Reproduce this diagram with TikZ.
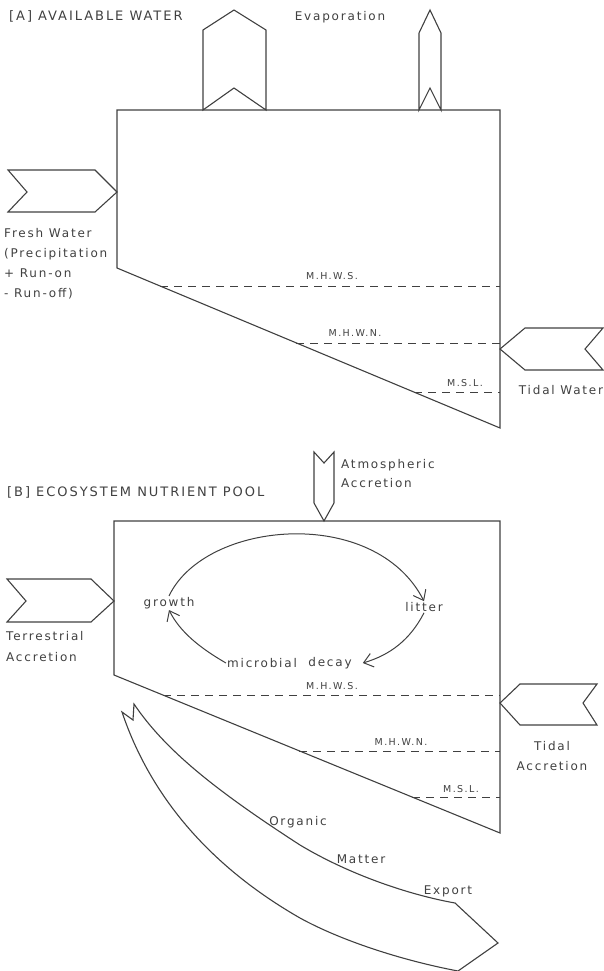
\documentclass[tikz,border=0pt]{standalone}
\usepackage{fontspec}
\setmainfont{DejaVu Sans}[LetterSpace=15]
\usetikzlibrary{arrows.meta}
\definecolor{ink}{gray}{0.25}

\tikzset{
  boxline/.style={draw=ink, line width=1.1pt, line join=miter},
  tideline/.style={draw=ink, line width=1pt, dash pattern=on 8pt off 6pt},
  cycleflow/.style={draw=ink, line width=1pt, -{Straight Barb[length=9pt,width=14pt]}},
  lbl/.style={text=ink, inner sep=1pt, font=\fontsize{12}{20}\selectfont},
  smalltag/.style={text=ink, inner sep=1pt, font=\fontsize{9.5}{10}\selectfont},
}

\begin{document}
\begin{tikzpicture}[x=1pt,y=-1pt]
  \useasboundingbox (0,0) rectangle (604,971);

  % ---- [A] available water ----
  \node[lbl, anchor=west, font=\fontsize{13}{14}\selectfont] (titleA) at (8,16) {[A] AVAILABLE WATER};
  \draw[boxline] (117,110) -- (500,110) -- (500,428) -- (117,268) -- cycle;

  % evaporation outlets
  \draw[boxline] (203,110) -- (203,30) -- (234,10) -- (266,30) -- (266,110) -- (234,88) -- cycle;
  \draw[boxline] (419,110) -- (419,33) -- (430,10) -- (441,33) -- (441,110) -- (430,88) -- cycle;
  \node[lbl] (evap) at (340,17) {Evaporation};

  % fresh water in (left) and tidal water in (right)
  \draw[boxline] (8,170) -- (95,170) -- (117,192) -- (95,212) -- (8,212) -- (27,192) -- cycle;
  \node[lbl, anchor=west, align=left] (fresh) at (3,264) {Fresh Water\\(Precipitation\\+ Run-on\\- Run-off)};
  \draw[boxline] (500,349) -- (525,328) -- (603,328) -- (585,349) -- (603,370) -- (525,370) -- cycle;
  \node[lbl] (tidalA) at (561,390) {Tidal Water};

  % tide levels
  \draw[tideline] (160,286) -- (500,286);
  \draw[tideline] (296,343) -- (500,343);
  \draw[tideline] (414,392) -- (500,392);
  \node[smalltag] (mhwsA) at (332,276) {M.H.W.S.};
  \node[smalltag] (mhwnA) at (355,333) {M.H.W.N.};
  \node[smalltag] (mslA) at (465,383) {M.S.L.};

  % ---- [B] ecosystem nutrient pool ----
  \node[lbl, anchor=west, font=\fontsize{13}{14}\selectfont] (titleB) at (6,492) {[B] ECOSYSTEM NUTRIENT POOL};
  \draw[boxline] (114,521) -- (500,521) -- (500,833) -- (114,675) -- cycle;

  % inputs: atmosphere, land, tide
  \draw[boxline] (314,452) -- (324,463) -- (334,452) -- (334,503) -- (324,521) -- (314,503) -- cycle;
  \node[lbl, anchor=west, align=left, font=\fontsize{12}{19}\selectfont] (atmos) at (340,474) {Atmospheric\\Accretion};
  \draw[boxline] (7,579) -- (91,579) -- (114,601) -- (91,622) -- (7,622) -- (26,601) -- cycle;
  \node[lbl, anchor=west, align=left, font=\fontsize{12}{21}\selectfont] (terr) at (5,647) {Terrestrial\\Accretion};
  \draw[boxline] (500,703) -- (520,684) -- (597,684) -- (583,703) -- (597,725) -- (520,725) -- cycle;
  \node[lbl, align=center] (tidalB) at (552,756) {Tidal\\Accretion};

  % tide levels
  \draw[tideline] (163,695) -- (500,695);
  \draw[tideline] (299,751) -- (500,751);
  \draw[tideline] (412,797) -- (500,797);
  \node[smalltag] (mhwsB) at (332,686) {M.H.W.S.};
  \node[smalltag] (mhwnB) at (401,742) {M.H.W.N.};
  \node[smalltag] (mslB) at (461,789) {M.S.L.};

  % nutrient cycle
  \node[lbl] (growth) at (169,603) {growth};
  \node[lbl] (litter) at (424,607) {litter};
  \node[lbl] (microbial) at (262,663) {microbial};
  \node[lbl] (decay) at (330,663) {decay};
  \draw[cycleflow] (growth.north) .. controls (205,520) and (375,505) .. (litter.north);
  \draw[cycleflow] (litter.south) .. controls (410,640) and (390,655) .. ([xshift=10pt]decay.east);
  \draw[cycleflow] (microbial.west) .. controls (200,648) and (180,632) .. (growth.south);

  % organic matter export
  \draw[boxline] (122,712) -- (133,720) -- (134,704)
    .. controls (165,750) and (215,790) .. (300,845)
    .. controls (350,875) and (410,895) .. (455,903)
    -- (498,943) -- (458,971)
    .. controls (400,960) and (340,940) .. (300,918)
    .. controls (225,875) and (155,810) .. cycle;
  \node[lbl] (organic) at (298,822) {Organic};
  \node[lbl] (matter) at (361,859) {Matter};
  \node[lbl] (export) at (448,891) {Export};
\end{tikzpicture}
\end{document}
